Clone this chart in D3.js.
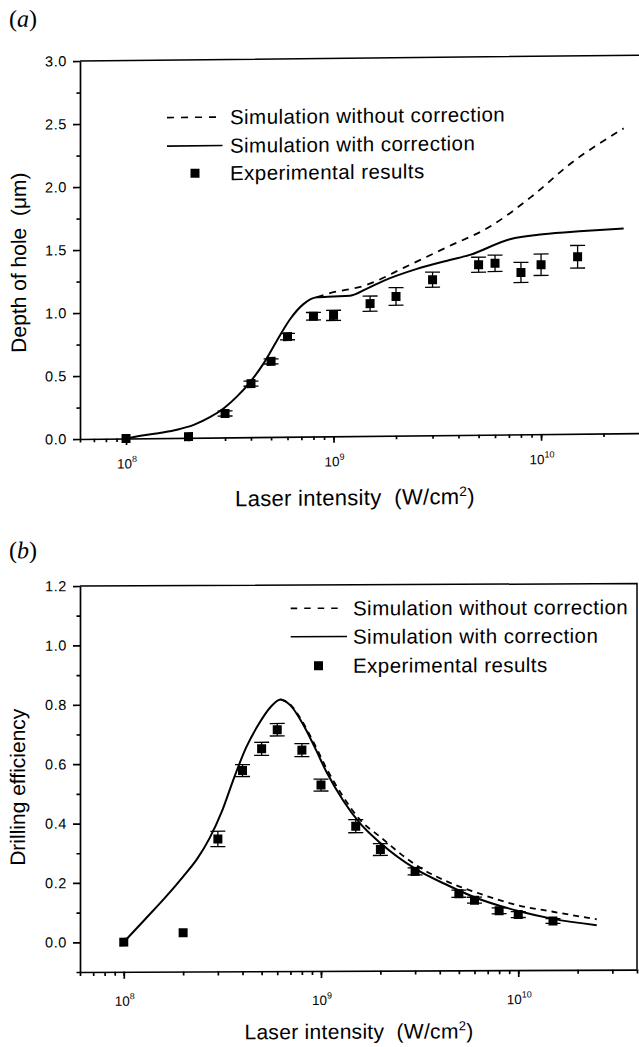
<!DOCTYPE html>
<html>
<head>
<meta charset="utf-8">
<script src="https://cdn.jsdelivr.net/npm/d3@7"></script>
<style>
  body { margin: 0; background: #fff; }
  svg { display: block; background: #fff; }
  text { font-family: "Liberation Sans", Arial, sans-serif; fill: #000; }
</style>
</head>
<body>
<div id="chart"></div>
<script>
// ===================================
// DATA
// ===================================

// Laser intensities of the experimental points (W/cm2)
const intensity = [1e8, 2e8, 3e8, 4e8, 5e8, 6e8, 8e8, 1e9, 1.5e9, 2e9, 3e9, 5e9, 6e9, 8e9, 1e10, 1.5e10];

// Panel (a): depth of hole (um)
const depthMeasured = [0.0, 0.01, 0.19, 0.425, 0.60, 0.795, 0.955, 0.96, 1.05, 1.105, 1.235, 1.35, 1.36, 1.285, 1.345, 1.405];
const depthError    = [0, 0, 0.02, 0.02, 0.02, 0.025, 0.03, 0.04, 0.06, 0.07, 0.06, 0.06, 0.065, 0.08, 0.085, 0.09];

const depthCorrX = [1e8, 1.22e8, 1.5e8, 1.76e8, 2.12e8, 2.55e8, 2.95e8, 3.42e8, 3.98e8, 4.62e8, 5.34e8, 6.17e8, 7.16e8, 8.3e8, 1e9, 1.2e9, 1.45e9, 1.74e9, 2.5e9, 3.63e9, 4.5e9, 7.08e9, 1.02e10, 1.6e10, 2.5e10];
const depthCorrY = [0.0, 0.024, 0.045, 0.066, 0.103, 0.164, 0.23, 0.323, 0.442, 0.589, 0.766, 0.933, 1.052, 1.105, 1.11, 1.115, 1.17, 1.23, 1.32, 1.39, 1.427, 1.55, 1.586, 1.608, 1.625];

const depthNoCorrX = [8.3e8, 9.27e8, 1.45e9, 2.2e9, 3.5e9, 5.65e9, 8.9e9, 1.4e10, 2.5e10];
const depthNoCorrY = [1.105, 1.13, 1.20, 1.335, 1.49, 1.65, 1.88, 2.15, 2.42];

// Panel (b): drilling efficiency
const effMeasured = [0.0, 0.031, 0.346, 0.576, 0.649, 0.713, 0.644, 0.526, 0.387, 0.308, 0.234, 0.158, 0.136, 0.10, 0.087, 0.065];
const effError    = [0, 0, 0.026, 0.02, 0.022, 0.021, 0.022, 0.02, 0.022, 0.02, 0.012, 0.012, 0.01, 0.01, 0.01, 0.008];

const effCorrX = [1e8, 1.28e8, 1.62e8, 2e8, 2.36e8, 2.72e8, 3.14e8, 3.62e8, 4.17e8, 4.81e8, 5.54e8, 6.23e8, 7e8, 8.08e8, 9.3e8, 1.07e9, 1.3e9, 1.57e9, 2e9, 3e9, 4.44e9, 6e9, 1e10, 1.5e10, 2.5e10];
const effCorrY = [0.0, 0.076, 0.149, 0.22, 0.28, 0.348, 0.438, 0.551, 0.653, 0.73, 0.789, 0.815, 0.795, 0.733, 0.653, 0.568, 0.472, 0.398, 0.33, 0.243, 0.185, 0.146, 0.099, 0.072, 0.05];

const effNoCorrX = [6.23e8, 7e8, 8.08e8, 9.3e8, 1.07e9, 1.3e9, 1.57e9, 2e9, 3e9, 5e9, 6e9, 1e10, 1.5e10, 2.5e10];
const effNoCorrY = [0.815, 0.797, 0.738, 0.662, 0.58, 0.485, 0.41, 0.35, 0.257, 0.183, 0.164, 0.118, 0.096, 0.07];

// Axes
const intensityDomain = [6e7, 4e10];
const decadeTicks = [1e8, 1e9, 1e10];
const depthTicks = [0, 0.5, 1.0, 1.5, 2.0, 2.5, 3.0];
const effTicks = [0, 0.2, 0.4, 0.6, 0.8, 1.0, 1.2];

const legendLabels = ["Simulation without correction", "Simulation with correction", "Experimental results"];

// ===================================
// SVG
// ===================================

const W = 639, H = 1047;
const svg = d3.select("#chart").append("svg")
    .attr("width", W)
    .attr("height", H)
    .attr("viewBox", `0 0 ${W} ${H}`);

function drawPanel(p) {
    // scanned figure is slightly tilted, so shear the whole panel a little
    const g = svg.append("g")
        .attr("transform", `translate(${p.left},0) skewY(${p.skew}) translate(${-p.left},0)`);

    const x = d3.scaleLog().domain(intensityDomain).range([p.left, p.right]);
    const y = d3.scaleLinear().domain(p.yDomain).range([p.bottom, p.top]);

    // frame: top and right edges
    g.append("path")
        .attr("d", `M${x.range()[0]},${y.range()[1]}H${x.range()[1]}V${y.range()[0]}`)
        .attr("fill", "none")
        .attr("stroke", "#000")
        .attr("stroke-width", 1.5);

    // ---- x axis (log) ----
    const xMinor = g.append("g")
        .attr("transform", `translate(0,${p.bottom})`)
        .call(d3.axisBottom(x).tickValues(x.ticks()).tickSize(p.xMinorSize).tickFormat("").tickSizeOuter(0));
    const xMajor = g.append("g")
        .attr("transform", `translate(0,${p.bottom})`)
        .call(d3.axisBottom(x).tickValues(decadeTicks).tickSize(p.xMajorSize).tickFormat("").tickSizeOuter(0));
    xMajor.select(".domain").remove();
    [xMinor, xMajor].forEach(a => a.selectAll("path, line").attr("stroke-width", 1.7));

    const xLab = g.selectAll(".xlab")
        .data(decadeTicks)
        .join("text")
        .attr("class", "xlab")
        .attr("x", d => x(d) + 1)
        .attr("y", p.xLabelY)
        .attr("text-anchor", "middle")
        .attr("font-size", 13.5);
    xLab.append("tspan").text("10");
    xLab.append("tspan")
        .attr("dy", -6.5)
        .attr("font-size", 9)
        .text(d => Math.round(Math.log10(d)));

    // ---- y axis ----
    const yMinor = g.append("g")
        .attr("transform", `translate(${p.left},0)`)
        .call(d3.axisLeft(y).tickValues(p.yMinor).tickSize(3.5).tickFormat("").tickSizeOuter(0));
    const yMajor = g.append("g")
        .attr("transform", `translate(${p.left},0)`)
        .call(d3.axisLeft(y).tickValues(p.yMajor).tickSize(7).tickPadding(6)
            .tickFormat(d3.format(".1f")).tickSizeOuter(0));
    yMajor.select(".domain").remove();
    [yMinor, yMajor].forEach(a => a.selectAll("path, line").attr("stroke-width", 1.7));
    yMajor.attr("font-family", null)
        .attr("font-size", 14.5)
        .selectAll("text")
        .attr("letter-spacing", 0.6)
        .attr("fill", "#000");

    // ---- curves ----
    const line = d3.line()
        .x(d => x(d[0]))
        .y(d => y(d[1]))
        .curve(d3.curveMonotoneX);

    g.append("path")
        .datum(d3.zip(p.noCorrX, p.noCorrY))
        .attr("d", line)
        .attr("fill", "none")
        .attr("stroke", "#000")
        .attr("stroke-width", 1.8)
        .attr("stroke-dasharray", p.dash);

    g.append("path")
        .datum(d3.zip(p.corrX, p.corrY))
        .attr("d", line)
        .attr("fill", "none")
        .attr("stroke", "#000")
        .attr("stroke-width", 2);

    // ---- experimental points with error bars ----
    const pts = d3.zip(intensity, p.measured, p.error);
    const capW = 7.5;
    const bars = g.selectAll(".ebar")
        .data(pts.filter(d => d[2] > 0))
        .join("g")
        .attr("class", "ebar")
        .attr("stroke", "#000")
        .attr("stroke-width", 1.3);
    bars.append("line")
        .attr("x1", d => x(d[0])).attr("x2", d => x(d[0]))
        .attr("y1", d => y(d[1] - d[2])).attr("y2", d => y(d[1] + d[2]));
    bars.append("line")
        .attr("x1", d => x(d[0]) - capW).attr("x2", d => x(d[0]) + capW)
        .attr("y1", d => y(d[1] + d[2])).attr("y2", d => y(d[1] + d[2]));
    bars.append("line")
        .attr("x1", d => x(d[0]) - capW).attr("x2", d => x(d[0]) + capW)
        .attr("y1", d => y(d[1] - d[2])).attr("y2", d => y(d[1] - d[2]));

    const sq = 9;
    g.selectAll(".pt")
        .data(pts)
        .join("rect")
        .attr("class", "pt")
        .attr("x", d => x(d[0]) - sq / 2)
        .attr("y", d => y(d[1]) - sq / 2)
        .attr("width", sq)
        .attr("height", sq)
        .attr("fill", "#000");

    // ---- legend ----
    const L = p.legend;
    g.append("line")
        .attr("x1", L.x0).attr("x2", L.dashEnd)
        .attr("y1", L.rows[0]).attr("y2", L.rows[0])
        .attr("stroke", "#000").attr("stroke-width", 1.6)
        .attr("stroke-dasharray", L.dash);
    g.append("line")
        .attr("x1", L.x0).attr("x2", L.solidEnd)
        .attr("y1", L.rows[1]).attr("y2", L.rows[1])
        .attr("stroke", "#000").attr("stroke-width", 1.6);
    g.append("rect")
        .attr("x", L.markX - sq / 2)
        .attr("y", L.rows[2] - sq / 2)
        .attr("width", sq).attr("height", sq)
        .attr("fill", "#000");
    g.selectAll(".legtext")
        .data(legendLabels)
        .join("text")
        .attr("class", "legtext")
        .attr("x", L.textX)
        .attr("y", (d, i) => L.rows[i] + 7.3)
        .attr("font-size", 20.5)
        .attr("letter-spacing", 0.45)
        .text(d => d);

    // ---- axis titles ----
    const xt = g.append("text")
        .attr("x", p.xTitle[0])
        .attr("y", p.xTitle[1])
        .attr("text-anchor", "middle")
        .attr("font-size", p.titleSize)
        .attr("letter-spacing", 0.3)
        .style("white-space", "pre");
    xt.append("tspan").text("Laser intensity  (W/cm");
    xt.append("tspan").attr("dy", -8).attr("font-size", p.titleSize * 0.62).text("2");
    xt.append("tspan").attr("dy", 8).text(")");

    g.append("text")
        .attr("transform", `translate(${p.yTitle[0]},${p.yTitle[1]}) rotate(-90)`)
        .attr("text-anchor", "middle")
        .attr("font-size", 21)
        .style("white-space", "pre")
        .text(p.yTitleText);

    // ---- panel tag ----
    const tag = g.append("text")
        .attr("x", 9)
        .attr("y", p.tagY)
        .attr("font-size", 24)
        .style("font-family", "'Liberation Serif', 'Times New Roman', serif");
    tag.append("tspan").text("(");
    tag.append("tspan").attr("font-style", "italic").text(p.tag);
    tag.append("tspan").text(")");
}

// ===================================
// PANEL (a): DEPTH OF HOLE
// ===================================
drawPanel({
    left: 80, right: 666, top: 61, bottom: 439, skew: -0.6,
    yDomain: [0, 3],
    yMajor: depthTicks,
    yMinor: d3.range(0.25, 3, 0.5),
    xMajorSize: 6.5, xMinorSize: 3.5, xLabelY: 469,
    measured: depthMeasured, error: depthError,
    corrX: depthCorrX, corrY: depthCorrY,
    noCorrX: depthNoCorrX, noCorrY: depthNoCorrY,
    dash: "7,6",
    legend: { x0: 167, dashEnd: 216, solidEnd: 222.5, markX: 195, textX: 230, rows: [118.5, 147, 174.5], dash: "7,7" },
    xTitle: [355, 508], titleSize: 22,
    yTitle: [26, 262], yTitleText: "Depth of hole  (\u03bcm)",
    tag: "a", tagY: 26
});

// ===================================
// PANEL (b): DRILLING EFFICIENCY
// ===================================
drawPanel({
    left: 80, right: 637, top: 586, bottom: 972, skew: -0.25,
    yDomain: [-0.1, 1.2],
    yMajor: effTicks,
    yMinor: d3.range(-0.1, 1.2, 0.2),
    xMajorSize: 7, xMinorSize: 4, xLabelY: 1006,
    measured: effMeasured, error: effError,
    corrX: effCorrX, corrY: effCorrY,
    noCorrX: effNoCorrX, noCorrY: effNoCorrY,
    dash: "6,5",
    legend: { x0: 290.7, dashEnd: 339, solidEnd: 347, markX: 318.5, textX: 353, rows: [609.3, 637.7, 666.7], dash: "6.5,7" },
    xTitle: [359, 1040], titleSize: 21,
    yTitle: [25, 787], yTitleText: "Drilling efficiency",
    tag: "b", tagY: 558
});
</script>
</body>
</html>
